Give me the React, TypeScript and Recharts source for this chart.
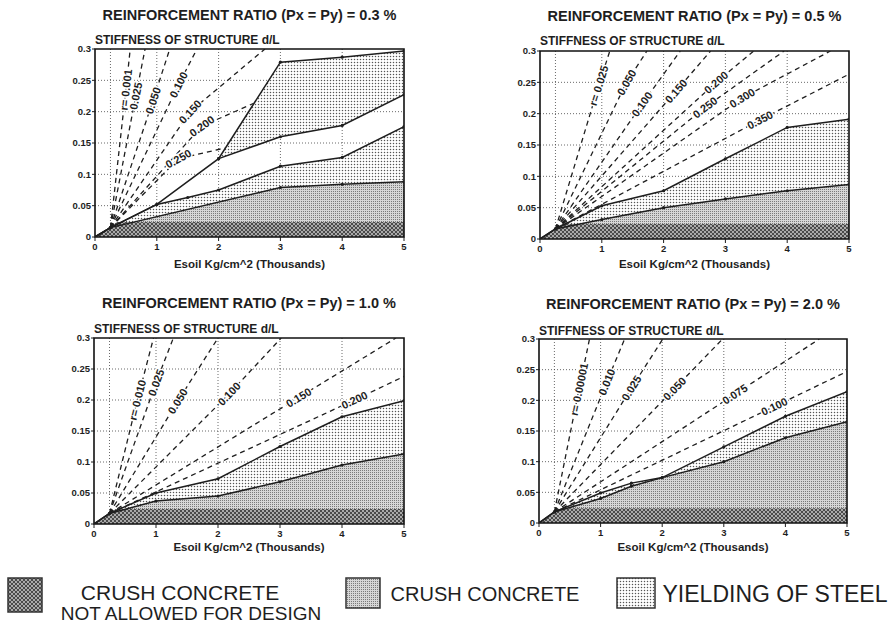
import React from "react";
import { ComposedChart, Area, Line, XAxis, YAxis, CartesianGrid, ReferenceArea } from "recharts";

type Pt = { x: number; y: number };
type Band = { x: number; y: [number, number] };
type RLine = { label: string; pts: Pt[] };

const xTicks = [0, 1, 2, 3, 4, 5];
const yTicks = [0, 0.05, 0.1, 0.15, 0.2, 0.25, 0.3];
const gridX = [0.25, 1, 2, 3, 4];
const gridY = [0.05, 0.1, 0.15, 0.2, 0.25];
const ratios = ["0.3", "0.5", "1.0", "2.0"];

// band that is not allowed for design (same in every panel)
const notAllowed: Pt[] = [
  { x: 0, y: 0 }, { x: 0.25, y: 0.016 }, { x: 0.35, y: 0.024 }, { x: 5, y: 0.024 },
];

// ---- Px = Py = 0.3 %
const p1Top: Pt[] = [
  { x: 0, y: 0 }, { x: 0.25, y: 0.015 }, { x: 1, y: 0.052 }, { x: 2, y: 0.125 },
  { x: 3, y: 0.279 }, { x: 4, y: 0.287 }, { x: 5, y: 0.297 },
];
const p1Mid: Pt[] = [{ x: 2, y: 0.125 }, { x: 3, y: 0.16 }, { x: 4, y: 0.178 }, { x: 5, y: 0.227 }];
const p1UpperSteel: Band[] = [
  { x: 2, y: [0.125, 0.125] }, { x: 3, y: [0.16, 0.279] }, { x: 4, y: [0.178, 0.287] }, { x: 5, y: [0.227, 0.297] },
];
const p1Steel: Pt[] = [
  { x: 0, y: 0 }, { x: 0.25, y: 0.015 }, { x: 1, y: 0.052 }, { x: 1.5, y: 0.063 }, { x: 2, y: 0.075 },
  { x: 3, y: 0.113 }, { x: 4, y: 0.127 }, { x: 5, y: 0.176 },
];
const p1Crush: Pt[] = [{ x: 0, y: 0 }, { x: 0.25, y: 0.015 }, { x: 3, y: 0.079 }, { x: 4, y: 0.084 }, { x: 5, y: 0.088 }];
const p1R: RLine[] = [
  { label: "r= 0.001", pts: [{ x: 0.25, y: 0.015 }, { x: 0.5, y: 0.235 }, { x: 0.57, y: 0.3 }] },
  { label: "0.025", pts: [{ x: 0.25, y: 0.015 }, { x: 0.66, y: 0.225 }, { x: 0.81, y: 0.3 }] },
  { label: "0.050", pts: [{ x: 0.25, y: 0.015 }, { x: 0.94, y: 0.218 }, { x: 1.21, y: 0.3 }] },
  { label: "0.100", pts: [{ x: 0.25, y: 0.015 }, { x: 1.35, y: 0.243 }, { x: 1.65, y: 0.3 }] },
  { label: "0.150", pts: [{ x: 0.25, y: 0.015 }, { x: 1.54, y: 0.2 }, { x: 2.75, y: 0.3 }] },
  { label: "0.200", pts: [{ x: 0.25, y: 0.015 }, { x: 1.73, y: 0.177 }, { x: 2.56, y: 0.213 }] },
  { label: "0.250", pts: [{ x: 0.25, y: 0.015 }, { x: 1.35, y: 0.125 }, { x: 2.1, y: 0.142 }] },
];

// ---- Px = Py = 0.5 %
const p2Top: Pt[] = [
  { x: 0, y: 0 }, { x: 0.25, y: 0.016 }, { x: 1, y: 0.053 }, { x: 2, y: 0.077 },
  { x: 3, y: 0.128 }, { x: 4, y: 0.178 }, { x: 5, y: 0.191 },
];
const p2Crush: Pt[] = [
  { x: 0, y: 0 }, { x: 0.25, y: 0.016 }, { x: 1, y: 0.031 }, { x: 2, y: 0.05 },
  { x: 3, y: 0.064 }, { x: 4, y: 0.077 }, { x: 5, y: 0.087 },
];
const p2R: RLine[] = [
  { label: "r= 0.025", pts: [{ x: 0.25, y: 0.016 }, { x: 0.95, y: 0.245 }, { x: 1.13, y: 0.3 }] },
  { label: "0.050", pts: [{ x: 0.25, y: 0.016 }, { x: 1.4, y: 0.25 }, { x: 1.73, y: 0.3 }] },
  { label: "0.100", pts: [{ x: 0.25, y: 0.016 }, { x: 1.65, y: 0.215 }, { x: 2.27, y: 0.3 }] },
  { label: "0.150", pts: [{ x: 0.25, y: 0.016 }, { x: 2.2, y: 0.236 }, { x: 2.76, y: 0.3 }] },
  { label: "0.200", pts: [{ x: 0.25, y: 0.016 }, { x: 2.85, y: 0.25 }, { x: 3.46, y: 0.3 }] },
  { label: "0.250", pts: [{ x: 0.25, y: 0.016 }, { x: 2.67, y: 0.21 }, { x: 3.95, y: 0.3 }] },
  { label: "0.300", pts: [{ x: 0.25, y: 0.016 }, { x: 3.27, y: 0.225 }, { x: 4.7, y: 0.3 }] },
  { label: "0.350", pts: [{ x: 0.25, y: 0.016 }, { x: 3.56, y: 0.19 }, { x: 5, y: 0.263 }] },
];

// ---- Px = Py = 1.0 %
const p3Top: Pt[] = [
  { x: 0, y: 0 }, { x: 0.25, y: 0.017 }, { x: 1, y: 0.05 }, { x: 2, y: 0.073 },
  { x: 3, y: 0.125 }, { x: 4, y: 0.173 }, { x: 5, y: 0.199 },
];
const p3Crush: Pt[] = [
  { x: 0, y: 0 }, { x: 0.25, y: 0.017 }, { x: 1, y: 0.037 }, { x: 2, y: 0.045 },
  { x: 3, y: 0.068 }, { x: 4, y: 0.095 }, { x: 5, y: 0.113 },
];
const p3R: RLine[] = [
  { label: "r= 0.010", pts: [{ x: 0.25, y: 0.017 }, { x: 0.7, y: 0.2 }, { x: 0.96, y: 0.3 }] },
  { label: "0.025", pts: [{ x: 0.25, y: 0.017 }, { x: 1.0, y: 0.228 }, { x: 1.28, y: 0.3 }] },
  { label: "0.050", pts: [{ x: 0.25, y: 0.017 }, { x: 1.35, y: 0.198 }, { x: 2.0, y: 0.3 }] },
  { label: "0.100", pts: [{ x: 0.25, y: 0.017 }, { x: 2.18, y: 0.21 }, { x: 3.02, y: 0.3 }] },
  { label: "0.150", pts: [{ x: 0.25, y: 0.017 }, { x: 3.3, y: 0.204 }, { x: 4.87, y: 0.3 }] },
  { label: "0.200", pts: [{ x: 0.25, y: 0.017 }, { x: 4.2, y: 0.2 }, { x: 5, y: 0.238 }] },
];

// ---- Px = Py = 2.0 %
const p4Top: Pt[] = [
  { x: 0, y: 0 }, { x: 0.25, y: 0.018 }, { x: 1, y: 0.049 }, { x: 1.5, y: 0.065 }, { x: 2, y: 0.074 },
  { x: 3, y: 0.124 }, { x: 4, y: 0.174 }, { x: 5, y: 0.214 },
];
const p4Crush: Pt[] = [
  { x: 0, y: 0 }, { x: 0.25, y: 0.018 }, { x: 1, y: 0.04 }, { x: 1.5, y: 0.06 }, { x: 2, y: 0.074 },
  { x: 3, y: 0.1 }, { x: 4, y: 0.139 }, { x: 5, y: 0.165 },
];
const p4R: RLine[] = [
  { label: "r= 0.00001", pts: [{ x: 0.25, y: 0.018 }, { x: 0.65, y: 0.218 }, { x: 0.82, y: 0.3 }] },
  { label: "0.010", pts: [{ x: 0.25, y: 0.018 }, { x: 1.1, y: 0.23 }, { x: 1.39, y: 0.3 }] },
  { label: "0.025", pts: [{ x: 0.25, y: 0.018 }, { x: 1.5, y: 0.22 }, { x: 2.01, y: 0.3 }] },
  { label: "0.050", pts: [{ x: 0.25, y: 0.018 }, { x: 2.2, y: 0.219 }, { x: 2.98, y: 0.3 }] },
  { label: "0.075", pts: [{ x: 0.25, y: 0.018 }, { x: 3.18, y: 0.21 }, { x: 4.55, y: 0.3 }] },
  { label: "0.100", pts: [{ x: 0.25, y: 0.018 }, { x: 3.82, y: 0.19 }, { x: 5, y: 0.247 }] },
];

const FONT = '"Liberation Sans", Arial, Helvetica, sans-serif';
const INK = "#1e1e1e";
const YW = 36; // y axis width
const MT = 12; // top margin

type AreaDef = { data: any[]; fill: string };

interface PanelProps {
  ratio: string;
  L: number; T: number; W: number; H: number;
  titleY: number; subY: number; xLabelY: number;
  areas: AreaDef[];
  solids: Pt[][];
  rlines: RLine[];
}

const angleOf = (a: Pt, b: Pt, W: number, H: number) => {
  const dx = ((b.x - a.x) / 5) * W;
  const dy = ((b.y - a.y) / 0.3) * H;
  return (Math.atan2(dy, dx) * 180) / Math.PI;
};

const Panel = ({ ratio, L, T, W, H, titleY, subY, xLabelY, areas, solids, rlines }: PanelProps) => {
  const labelDot = (rl: RLine) => (p: any) => {
    if (p.index !== 1) return <g key={`e-${p.index}`} />;
    const ang = -(angleOf(rl.pts[0], rl.pts[1], W, H) + angleOf(rl.pts[1], rl.pts[2], W, H)) / 2;
    return (
      <text
        key="lbl"
        x={p.cx}
        y={p.cy}
        transform={`rotate(${ang} ${p.cx} ${p.cy})`}
        textAnchor="middle"
        dominantBaseline="central"
        fontSize={11}
        fontWeight="bold"
        fontFamily={FONT}
        fill={INK}
        stroke="#fff"
        strokeWidth={3}
        style={{ paintOrder: "stroke" }}
      >
        {rl.label}
      </text>
    );
  };

  return (
    <>
      <div style={{ position: "absolute", left: L + W / 2, top: titleY, transform: "translate(-50%, -50%)", fontSize: 14.5, fontWeight: "bold", whiteSpace: "nowrap", lineHeight: 1, color: INK }}>
        REINFORCEMENT RATIO (Px = Py) = {ratio} %
      </div>
      <div style={{ position: "absolute", left: L, top: subY, transform: "translateY(-50%)", fontSize: 12, fontWeight: "bold", whiteSpace: "nowrap", lineHeight: 1, color: INK }}>
        STIFFNESS OF STRUCTURE d/L
      </div>
      <div style={{ position: "absolute", left: L + W / 2, top: xLabelY, transform: "translate(-50%, -50%)", fontSize: 11.5, fontWeight: "bold", whiteSpace: "nowrap", lineHeight: 1, color: INK }}>
        Esoil Kg/cm^2 (Thousands)
      </div>
      <div style={{ position: "absolute", left: L - YW, top: T - MT }}>
        <ComposedChart width={YW + W + 12} height={MT + H + 34} margin={{ top: MT, right: 12, bottom: 0, left: 0 }}>
          <CartesianGrid
            stroke="#444"
            strokeWidth={0.8}
            strokeDasharray="1 2"
            verticalCoordinatesGenerator={() => gridX.map((v) => YW + (v / 5) * W)}
            horizontalCoordinatesGenerator={() => gridY.map((v) => MT + H - (v / 0.3) * H)}
          />
          <XAxis
            type="number"
            dataKey="x"
            domain={[0, 5]}
            ticks={xTicks}
            interval={0}
            allowDataOverflow
            axisLine={false}
            tickSize={4}
            tickMargin={2}
            height={34}
            tickLine={{ stroke: INK }}
            tick={{ fontSize: 9.5, fontWeight: "bold", fill: INK, fontFamily: FONT }}
          />
          <YAxis
            type="number"
            domain={[0, 0.3]}
            ticks={yTicks}
            interval={0}
            allowDataOverflow
            axisLine={false}
            width={YW}
            tickSize={3}
            tickMargin={1}
            tickLine={{ stroke: INK }}
            tick={{ fontSize: 9.5, fontWeight: "bold", fill: INK, fontFamily: FONT }}
          />
          {areas.map((a, i) => (
            <Area
              key={`a${i}`}
              data={a.data}
              dataKey="y"
              type="linear"
              stroke="none"
              fill={`url(#${a.fill})`}
              fillOpacity={1}
              dot={false}
              activeDot={false}
              isAnimationActive={false}
            />
          ))}
          {rlines.map((rl, i) => (
            <Line
              key={`r${i}`}
              data={rl.pts}
              dataKey="y"
              type="linear"
              stroke={INK}
              strokeWidth={1.3}
              strokeDasharray="5 4"
              dot={labelDot(rl)}
              activeDot={false}
              isAnimationActive={false}
            />
          ))}
          {solids.map((s, i) => (
            <Line
              key={`s${i}`}
              data={s}
              dataKey="y"
              type="linear"
              stroke={INK}
              strokeWidth={1.5}
              dot={{ r: 1.6, fill: INK, stroke: "none" }}
              activeDot={false}
              isAnimationActive={false}
            />
          ))}
          <ReferenceArea x1={0} x2={5} y1={0} y2={0.3} fill="none" stroke="#111" strokeWidth={1.6} ifOverflow="visible" />
        </ComposedChart>
      </div>
    </>
  );
};

const LegendBox = ({ left, top, w, h, fill }: { left: number; top: number; w: number; h: number; fill: string }) => (
  <svg style={{ position: "absolute", left, top }} width={w} height={h}>
    <rect x={1} y={1} width={w - 2} height={h - 2} fill={`url(#${fill})`} stroke="#333" strokeWidth={1.5} />
  </svg>
);

export default function App() {
  return (
    <div style={{ position: "absolute", left: 0, top: 0, width: 894, height: 626, background: "#fff", overflow: "hidden", fontFamily: FONT }}>
      <svg width={0} height={0} style={{ position: "absolute" }}>
        <defs>
          <pattern id="patSteel" width="3" height="3" patternUnits="userSpaceOnUse">
            <rect width="3" height="3" fill="#fff" />
            <circle cx="1.5" cy="1.5" r="0.75" fill="#555" />
          </pattern>
          <pattern id="patCrush" width="2" height="2" patternUnits="userSpaceOnUse">
            <rect width="2" height="2" fill="#d6d6d6" />
            <rect width="1" height="1" fill="#7a7a7a" />
          </pattern>
          <pattern id="patDark" width="4" height="4" patternUnits="userSpaceOnUse">
            <rect width="4" height="4" fill="#4a4a4a" />
            <circle cx="1" cy="1" r="0.9" fill="#d8d8d8" />
            <circle cx="3" cy="3" r="0.9" fill="#d8d8d8" />
          </pattern>
        </defs>
      </svg>

      <Panel
        ratio={ratios[0]} L={95} T={49} W={309} H={188} titleY={14.5} subY={40} xLabelY={264.5}
        areas={[
          { data: p1UpperSteel, fill: "patSteel" },
          { data: p1Steel, fill: "patSteel" },
          { data: p1Crush, fill: "patCrush" },
          { data: notAllowed, fill: "patDark" },
        ]}
        solids={[p1Top, p1Mid, p1Steel, p1Crush]}
        rlines={p1R}
      />
      <Panel
        ratio={ratios[1]} L={540} T={51} W={309} H={188} titleY={15.5} subY={41} xLabelY={265}
        areas={[
          { data: p2Top, fill: "patSteel" },
          { data: p2Crush, fill: "patCrush" },
          { data: notAllowed, fill: "patDark" },
        ]}
        solids={[p2Top, p2Crush]}
        rlines={p2R}
      />
      <Panel
        ratio={ratios[2]} L={94} T={338} W={310} H={186} titleY={303} subY={328.5} xLabelY={548}
        areas={[
          { data: p3Top, fill: "patSteel" },
          { data: p3Crush, fill: "patCrush" },
          { data: notAllowed, fill: "patDark" },
        ]}
        solids={[p3Top, p3Crush]}
        rlines={p3R}
      />
      <Panel
        ratio={ratios[3]} L={539} T={339} W={308} H={184} titleY={304} subY={330.5} xLabelY={548}
        areas={[
          { data: p4Top, fill: "patSteel" },
          { data: p4Crush, fill: "patCrush" },
          { data: notAllowed, fill: "patDark" },
        ]}
        solids={[p4Top, p4Crush]}
        rlines={p4R}
      />

      <LegendBox left={7} top={577} w={36} h={36} fill="patDark" />
      <div style={{ position: "absolute", left: 180, top: 592, transform: "translate(-50%, -50%)", fontSize: 21, whiteSpace: "nowrap", lineHeight: 1, color: INK }}>
        CRUSH CONCRETE
      </div>
      <div style={{ position: "absolute", left: 191, top: 613, transform: "translate(-50%, -50%)", fontSize: 19, whiteSpace: "nowrap", lineHeight: 1, color: INK }}>
        NOT ALLOWED FOR DESIGN
      </div>
      <LegendBox left={345} top={577} w={36} h={32} fill="patCrush" />
      <div style={{ position: "absolute", left: 485, top: 594, transform: "translate(-50%, -50%)", fontSize: 20, whiteSpace: "nowrap", lineHeight: 1, color: INK }}>
        CRUSH CONCRETE
      </div>
      <LegendBox left={616} top={577} w={40} h={32} fill="patSteel" />
      <div style={{ position: "absolute", left: 775, top: 594, transform: "translate(-50%, -50%)", fontSize: 23, whiteSpace: "nowrap", lineHeight: 1, color: INK }}>
        YIELDING OF STEEL
      </div>
    </div>
  );
}
